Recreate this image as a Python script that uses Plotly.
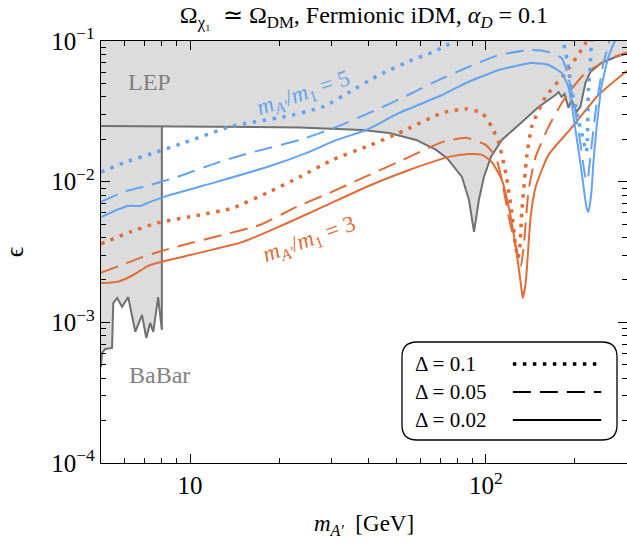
import plotly.graph_objects as go

# ---------------- data (m_A' in GeV, epsilon) ----------------
lep_m = [5.0, 23.5, 38.2, 47.1, 58.1, 67.9, 73.9, 83.0, 87.7, 91.2, 94.7, 98.5, 104.0,
         113.2, 129.1, 150.6, 172.0, 176.1, 180.3, 184.5, 190.2, 194.7, 202.4, 208.7,
         217.0, 225.6, 245.8, 274.0, 300.0]
lep_eps = [0.0249, 0.0243, 0.0233, 0.0222, 0.0198, 0.0168, 0.0147, 0.0108, 0.00741, 0.00439,
           0.00741, 0.0108, 0.0150, 0.0198, 0.0253, 0.0340, 0.0413, 0.0434, 0.0400, 0.0420,
           0.0334, 0.0381, 0.0313, 0.0340, 0.0503, 0.0602, 0.0698, 0.0769, 0.0815]

babar_m = [5.0, 5.04, 5.17, 5.45, 5.50, 5.67, 5.89, 6.18, 6.53, 6.88, 7.11, 7.33, 7.51,
           7.80, 8.03, 8.03]
babar_eps = [0.000482, 0.000606, 0.000647, 0.000658, 0.00137, 0.00149, 0.00129, 0.00151,
             0.000855, 0.00113, 0.000775, 0.000991, 0.000855, 0.00151, 0.000884, 0.0249]

# ratio m_A'/m_1 = 5 (blue)
b01_m = [5.0, 5.95, 7.74, 9.47, 13.96, 20.6, 28.1, 34.6, 43.6, 56.4, 66.3, 75.0, 81.1,
         None, 181.0, 183.1, 190.2, 194.7, 202.4, 205.5, 213.6, 217.0, 218.7, 220.4, 222.1,
         225.6, 227.3, 228.5]
b01_eps = [0.0117, 0.0136, 0.0163, 0.0188, 0.0249, 0.0288, 0.0340, 0.0434, 0.0574, 0.0733,
           0.0835, 0.0952, 0.107,
           None, 0.110, 0.0968, 0.0653, 0.0449, 0.0324, 0.0275, 0.0198, 0.0168, 0.0163,
           0.0200, 0.0449, 0.0698, 0.0968, 0.110]

b005_m = [5.0, 5.95, 7.33, 9.04, 12.3, 15.9, 23.5, 31.3, 42.6, 56.4, 65.8, 85.7, 110.6,
          142.8, 162.8, 180.3, 190.2, 205.5, 217.0, 220.4, 225.6, 234.5, 243.9, 249.7,
          259.6, 263.6]
b005_eps = [0.00718, 0.00845, 0.00947, 0.0108, 0.0136, 0.0160, 0.0198, 0.0245, 0.0324,
            0.0427, 0.0503, 0.0643, 0.0795, 0.0863, 0.0835, 0.0757, 0.0555, 0.0233,
            0.0108, 0.0101, 0.0150, 0.0308, 0.0529, 0.0698, 0.0937, 0.107]

b002_m = [5.0, 6.14, 6.79, 7.33, 8.37, 12.3, 18.2, 25.3, 31.3, 39.4, 50.9, 71.1, 85.7,
          110.6, 142.8, 162.8, 180.3, 190.2, 200.9, 210.3, 218.7, 222.1, 227.3, 230.9,
          236.3, 245.8, 259.6, 274.0, 280.0]
b002_eps = [0.00561, 0.00672, 0.00672, 0.00718, 0.00792, 0.00996, 0.0127, 0.0163, 0.0198,
            0.0233, 0.0308, 0.0413, 0.0503, 0.0622, 0.0698, 0.0675, 0.0593, 0.0471, 0.0233,
            0.0121, 0.00661, 0.00609, 0.00832, 0.0136, 0.0233, 0.0471, 0.0769, 0.1016, 0.11]

# ratio m_A'/m_1 = 3 (orange)
o01_m = [5.0, 6.28, 7.74, 10.8, 13.96, 18.2, 23.5, 30.3, 39.4, 50.9, 71.1, 85.7, 97.0,
         104.7, 110.6, 116.8, 122.4, 126.2, 128.2, 130.1, 132.2, 137.4, 142.8, 159.1,
         185.9, 210.3, 222.1]
o01_eps = [0.00361, 0.00439, 0.00509, 0.00580, 0.00650, 0.00832, 0.0108, 0.0143, 0.0177,
           0.0222, 0.0308, 0.0329, 0.0308, 0.0245, 0.0188, 0.0115, 0.00600, 0.00343,
           0.00287, 0.00327, 0.00600, 0.0150, 0.0245, 0.0400, 0.0593, 0.0863, 0.105]

o005_m = [5.0, 5.90, 6.79, 7.80, 9.47, 12.9, 17.2, 22.9, 29.6, 38.2, 49.8, 71.1, 85.7,
          100.0, 108.0, 113.2, 119.5, 126.2, 131.2, 134.2, 139.5, 147.3, 162.8, 185.9,
          217.0, 265.6, 300.0]
o005_eps = [0.00226, 0.00256, 0.00287, 0.00316, 0.00355, 0.00418, 0.00492, 0.00661,
            0.00832, 0.0106, 0.0136, 0.0191, 0.0205, 0.0182, 0.0150, 0.0103, 0.00561,
            0.00343, 0.00248, 0.00343, 0.00873, 0.0150, 0.0245, 0.0400, 0.0593, 0.0757,
            0.0830]

o002_m = [5.0, 5.67, 6.43, 7.33, 10.0, 15.1, 20.6, 28.1, 39.4, 55.0, 75.0, 87.7, 97.0,
          104.7, 113.2, 119.5, 126.2, 131.2, 133.2, 136.3, 141.7, 147.3, 162.8, 194.7,
          240.1, 300.0]
o002_eps = [0.00190, 0.00194, 0.00217, 0.00256, 0.00301, 0.00373, 0.00492, 0.00661,
            0.00917, 0.0121, 0.0150, 0.0157, 0.0155, 0.0138, 0.0103, 0.00661, 0.00343,
            0.00190, 0.00149, 0.00190, 0.00561, 0.00917, 0.0155, 0.0241, 0.0413, 0.0615]

x_tickvals = [10, 100]
x_ticktext = ["10", "10<sup>2</sup>"]
x_minor = [6, 7, 8, 9, 20, 30, 40, 50, 60, 70, 80, 90, 200, 300]
y_tickvals = [1e-4, 1e-3, 1e-2, 1e-1]
y_ticktext = ["10<sup>−4</sup>", "10<sup>−3</sup>", "10<sup>−2</sup>", "10<sup>−1</sup>"]
y_minor = [k * 10.0 ** e for e in (-4, -3, -2) for k in range(2, 10)]

legend_labels = ["Δ = 0.1", "Δ = 0.05", "Δ = 0.02"]

# ---------------- style ----------------
BLUE = "#62a3f2"
ORANGE = "#e06c36"
GRAY_LINE = "#707070"
GRAY_FILL = "#dcdcdc"
FONT = "Liberation Serif"
DOT = "3.5px,6.5px"
DASH = "18px,9px"

fig = go.Figure()

# shaded excluded region (BaBar + LEP)
shade_m = babar_m + lep_m[1:] + [lep_m[-1], 5.0]
shade_eps = babar_eps + lep_eps[1:] + [0.1, 0.1]
fig.add_trace(go.Scatter(x=shade_m, y=shade_eps, mode="lines", fill="toself",
                         fillcolor=GRAY_FILL, line=dict(width=0), hoverinfo="skip"))
fig.add_trace(go.Scatter(x=lep_m, y=lep_eps, mode="lines",
                         line=dict(color=GRAY_LINE, width=2)))
fig.add_trace(go.Scatter(x=babar_m, y=babar_eps, mode="lines",
                         line=dict(color=GRAY_LINE, width=2)))

for xs, ys, col, dash, w in [
    (o01_m, o01_eps, ORANGE, DOT, 3.5),
    (o005_m, o005_eps, ORANGE, DASH, 2),
    (o002_m, o002_eps, ORANGE, "solid", 2),
    (b01_m, b01_eps, BLUE, DOT, 3.5),
    (b005_m, b005_eps, BLUE, DASH, 2),
    (b002_m, b002_eps, BLUE, "solid", 2),
]:
    fig.add_trace(go.Scatter(x=xs, y=ys, mode="lines", connectgaps=False,
                             line=dict(color=col, width=w, dash=dash, shape="spline",
                                       smoothing=0.5)))

axis_common = dict(type="log", showline=True, linecolor="black", linewidth=1.3,
                   mirror="allticks", ticks="inside", ticklen=9, tickwidth=1.2,
                   tickcolor="black", showgrid=False, zeroline=False,
                   tickfont=dict(family=FONT, size=25, color="black"))

fig.update_xaxes(range=[0.69897, 2.4771], tickmode="array", tickvals=x_tickvals,
                 ticktext=x_ticktext,
                 minor=dict(tickmode="array", tickvals=x_minor, ticks="inside", ticklen=5,
                            tickwidth=1, tickcolor="black", showgrid=False),
                 title=dict(text="<i>m<sub>A′</sub></i>  [GeV]",
                            font=dict(family=FONT, size=23, color="black"), standoff=16),
                 **axis_common)
fig.update_yaxes(range=[-4, -1], tickmode="array", tickvals=y_tickvals,
                 ticktext=y_ticktext,
                 minor=dict(tickmode="array", tickvals=y_minor, ticks="inside", ticklen=5,
                            tickwidth=1, tickcolor="black", showgrid=False),
                 title=dict(text="ϵ", font=dict(family=FONT, size=26, color="black"),
                            standoff=22),
                 **axis_common)

# annotations (texts)
ann = [
    dict(x=0.093, y=0.903, text="LEP", font=dict(family=FONT, size=24, color="#808080")),
    dict(x=0.112, y=0.2085, text="BaBar", font=dict(family=FONT, size=24, color="#808080")),
    dict(x=0.385, y=0.875, text="<i>m<sub>A'</sub></i>/<i>m</i><sub>1</sub> = 5",
         textangle=-19, font=dict(family=FONT, size=23, color=BLUE)),
    dict(x=0.397, y=0.528, text="<i>m<sub>A'</sub></i>/<i>m</i><sub>1</sub> = 3",
         textangle=-20, font=dict(family=FONT, size=23, color=ORANGE)),
]
for a in ann:
    a.update(xref="paper", yref="paper", showarrow=False, xanchor="center", yanchor="middle")
    fig.add_annotation(**a)

# custom legend box
x0, x1, y0, y1 = 0.5722, 0.981, 0.0545, 0.2867
rx, ry = 0.0285, 0.0355
path = (f"M {x0+rx},{y0} L {x1-rx},{y0} Q {x1},{y0} {x1},{y0+ry} "
        f"L {x1},{y1-ry} Q {x1},{y1} {x1-rx},{y1} L {x0+rx},{y1} "
        f"Q {x0},{y1} {x0},{y1-ry} L {x0},{y0+ry} Q {x0},{y0} {x0+rx},{y0} Z")
fig.add_shape(type="path", path=path, xref="paper", yref="paper",
              line=dict(color="black", width=1.3), fillcolor="white", layer="above")
rows_y = [0.2346, 0.1682, 0.1019]
styles = [(DOT, 3.5), (DASH, 2), ("solid", 2)]
for lab, yy, (d, w) in zip(legend_labels, rows_y, styles):
    fig.add_annotation(x=0.5926, y=yy, xref="paper", yref="paper", text=lab,
                       showarrow=False, xanchor="left", yanchor="middle",
                       font=dict(family=FONT, size=21, color="black"))
    fig.add_shape(type="line", x0=0.783, x1=0.951, y0=yy, y1=yy, xref="paper",
                  yref="paper", line=dict(color="black", width=w, dash=d), layer="above")

fig.update_layout(
    width=627, height=550,
    margin=dict(l=101, r=0, t=41, b=87),
    paper_bgcolor="white", plot_bgcolor="white",
    showlegend=False,
    title=dict(text="Ω<sub>χ₁</sub>  ≃ Ω<sub>DM</sub>, Fermionic iDM, <i>α<sub>D</sub></i> = 0.1",
               x=0.5805, xanchor="center", y=0.973, yanchor="middle",
               font=dict(family=FONT, size=24, color="black")),
)

fig.write_html("out.html")
